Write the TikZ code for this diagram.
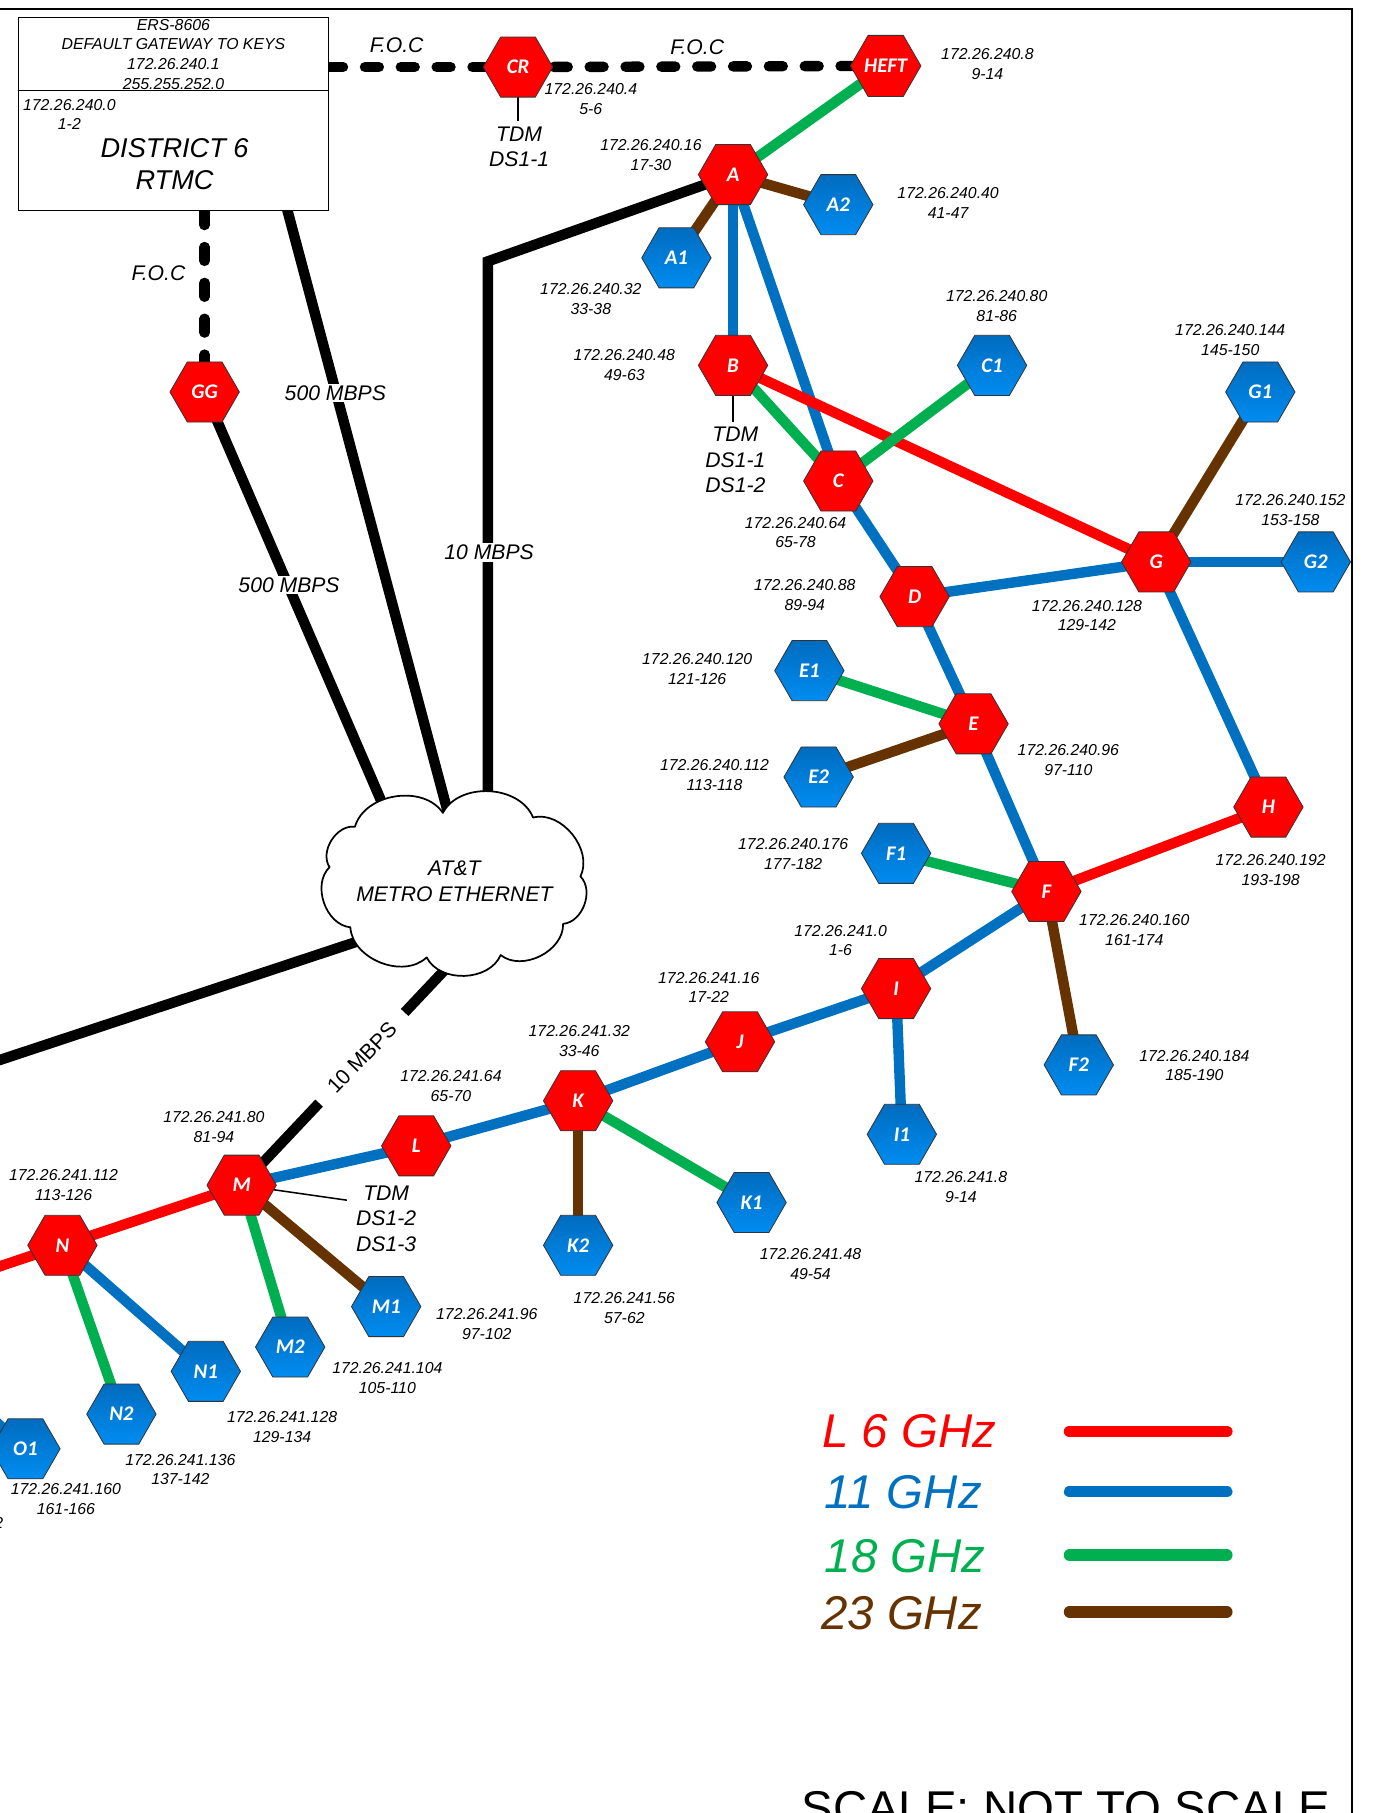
\documentclass[tikz,border=0pt]{standalone}
\usepackage{fontspec}
\setmainfont{Liberation Sans}
\newfontfamily\hexf{Carlito}
\usetikzlibrary{shapes.geometric,calc}
\pgfdeclarelayer{bg}
\pgfsetlayers{bg,main}
\definecolor{cR}{HTML}{FF0000}
\definecolor{cB}{HTML}{0070C0}
\definecolor{cG}{HTML}{00B050}
\definecolor{cN}{HTML}{663300}
\definecolor{hbT}{HTML}{006CBF}
\definecolor{hbB}{HTML}{008CF0}
\begin{document}
\begin{tikzpicture}[x=1pt,y=-1pt,
  hexbase/.style={regular polygon, regular polygon sides=6, minimum size=60pt, inner sep=0pt, draw=black!80, line width=0.7pt, text=white, font=\hexf\bfseries\itshape\fontsize{18}{18}\selectfont},
  hexr/.style={hexbase, fill=cR},
  hexb/.style={hexbase, top color=hbT, bottom color=hbB},
  ip/.style={align=center, inner sep=0pt, font=\itshape\fontsize{13.7}{17}\selectfont},
  big/.style={align=center, inner sep=0pt, font=\itshape\fontsize{18.3}{22}\selectfont},
  lk/.style={line width=9pt},
  l6/.style={lk, draw=cR}, l11/.style={lk, draw=cB}, l18/.style={lk, draw=cG}, l23/.style={lk, draw=cN},
  blk/.style={line width=9pt, draw=black},
  foc/.style={line width=9pt, draw=black, line cap=round, dash pattern=on 12pt off 19pt},
  thinln/.style={line width=1.3pt, draw=black},
  lbl/.style={big, fill=white, inner sep=1.5pt},
  leg/.style={anchor=base west, inner sep=0pt, font=\itshape\fontsize{41}{41}\selectfont},
  legln/.style={line width=10pt, line cap=round},
]
\useasboundingbox (0,0) rectangle (1187,1568);
% frame
\draw[line width=2pt] (0,8) -- (1169,8) -- (1169,1580);

% RTMC box
\node[draw, line width=1.3pt, minimum width=268pt, minimum height=167pt, inner sep=0pt, fill=white] (rtmc) at (150,98.5) {};
\draw[line width=1.3pt] ($(rtmc.north west)+(0,64)$) -- ($(rtmc.north east)+(0,64)$);
\node[ip] (hdr) at (150,47) {ERS-8606\\DEFAULT GATEWAY TO KEYS\\172.26.240.1\\255.255.252.0};
\node[ip] (i0) at (60,99) {172.26.240.0\\1-2};
\node[align=center, inner sep=0pt, font=\itshape\fontsize{23.5}{27}\selectfont] (dist) at (151,142) {DISTRICT 6\\RTMC};

% cloud
\draw[fill=white, line width=1.5pt, line join=round] (383,703) to[bend left=65] (461,707) to[bend left=65] (502,758) to[bend left=65] (487,799) to[bend left=65] (433,826) to[bend left=65] (369,828) to[bend left=65] (303,802) to[bend left=65] (285,750) to[bend left=65] (307,715) to[bend left=65] (383,703) -- cycle;
\node[big, font=\itshape\fontsize{18.3}{22}\selectfont] (cloudtxt) at (393,762) {AT\&T\\METRO ETHERNET};

% hexagons
\node[hexr] (CR) at (448,58) {CR};
\node[hexr] (HEFT) at (766,57) {HEFT};
\node[hexr] (A) at (634,151) {A};
\node[hexb] (A1) at (585,223) {A1};
\node[hexb] (A2) at (725,177) {A2};
\node[hexr] (B) at (634,316) {B};
\node[hexr] (C) at (725,416) {C};
\node[hexb] (C1) at (858,316) {C1};
\node[hexb] (G1) at (1090,339) {G1};
\node[hexr] (G) at (1000,486) {G};
\node[hexb] (G2) at (1138,486) {G2};
\node[hexr] (D) at (791,516) {D};
\node[hexb] (E1) at (700,580) {E1};
\node[hexr] (E) at (842,626) {E};
\node[hexb] (E2) at (708,672) {E2};
\node[hexr] (H) at (1097,698) {H};
\node[hexb] (F1) at (775,738) {F1};
\node[hexr] (F) at (905,771) {F};
\node[hexr] (I) at (775,855) {I};
\node[hexb] (F2) at (933,921) {F2};
\node[hexb] (I1) at (780,981) {I1};
\node[hexr] (J) at (640,901) {J};
\node[hexr] (K) at (500,952) {K};
\node[hexb] (K1) at (650,1040) {K1};
\node[hexb] (K2) at (500,1077) {K2};
\node[hexr] (L) at (360,991) {L};
\node[hexr] (M) at (209,1025) {M};
\node[hexb] (M1) at (334,1130) {M1};
\node[hexb] (M2) at (251,1165) {M2};
\node[hexr] (N) at (54,1077) {N};
\node[hexb] (N1) at (178,1186) {N1};
\node[hexb] (N2) at (105,1223) {N2};
\node[hexb] (O1) at (22,1253) {O1};
\node[hexr] (GG) at (177,339) {GG};

% coordinates
\coordinate (rb1) at (247,176);
\coordinate (c1) at (388,705);
\coordinate (c2) at (335,705);
\coordinate (k1) at (422,226);
\coordinate (c3) at (422,705);
\coordinate (c4) at (310,814);
\coordinate (lft) at (-10,920);
\coordinate (c5) at (393,830);
\coordinate (m1) at ($(c5)!0.234!(M.center)$);
\coordinate (m2) at ($(c5)!0.636!(M.center)$);
\coordinate (mlab) at ($(c5)!0.435!(M.center)$);
\coordinate (tdm1) at (448,105);
\coordinate (tdm2) at (634,365);
\coordinate (tdm3) at (300,1038);
\coordinate (nL) at (-10,1098.5);
\coordinate (oL) at (-25,1210);

\begin{pgfonlayer}{bg}
% black trunks
\draw[blk] (rb1) -- (c1);
\draw[blk] (GG.center) -- (c2);
\draw[blk, line join=miter] (A.center) -- (k1) -- (c3);
\draw[blk] (c4) -- (lft);
\draw[blk] (c5) -- (m1);
\draw[blk] (m2) -- (M.center);
% fiber
\draw[foc] (rtmc.east |- CR.center) -- (CR.center);
\draw[foc] (CR.center) -- (HEFT.center);
\draw[foc] (rtmc.south -| GG.center) -- (GG.center);
% TDM ticks
\draw[thinln] (CR.center) -- (tdm1);
\draw[thinln] (B.center) -- (tdm2);
\draw[thinln] (M.center) -- (tdm3);
% radio links
\draw[l18] (HEFT.center) -- (A.center);
\draw[l23] (A.center) -- (A1.center);
\draw[l23] (A.center) -- (A2.center);
\draw[l11] (A.center) -- (B.center);
\draw[l11] (A.center) -- (C.center);
\draw[l18] (B.center) -- (C.center);
\draw[l6] (B.center) -- (G.center);
\draw[l18] (C.center) -- (C1.center);
\draw[l11] (C.center) -- (D.center);
\draw[l11] (D.center) -- (G.center);
\draw[l23] (G.center) -- (G1.center);
\draw[l11] (G.center) -- (G2.center);
\draw[l11] (G.center) -- (H.center);
\draw[l11] (D.center) -- (E.center);
\draw[l18] (E.center) -- (E1.center);
\draw[l23] (E.center) -- (E2.center);
\draw[l11] (E.center) -- (F.center);
\draw[l6] (F.center) -- (H.center);
\draw[l18] (F.center) -- (F1.center);
\draw[l11] (F.center) -- (I.center);
\draw[l23] (F.center) -- (F2.center);
\draw[l11] (I.center) -- (I1.center);
\draw[l11] (I.center) -- (J.center);
\draw[l11] (J.center) -- (K.center);
\draw[l18] (K.center) -- (K1.center);
\draw[l23] (K.center) -- (K2.center);
\draw[l11] (K.center) -- (L.center);
\draw[l11] (L.center) -- (M.center);
\draw[l23] (M.center) -- (M1.center);
\draw[l18] (M.center) -- (M2.center);
\draw[l6] (M.center) -- (N.center);
\draw[l6] (N.center) -- (nL);
\draw[l11] (N.center) -- (N1.center);
\draw[l18] (N.center) -- (N2.center);
\draw[l11] (oL) -- (O1.center);
\end{pgfonlayer}

% link labels
\node[big] (foc1) at (343,39) {F.O.C};
\node[big] (foc2) at (603,41) {F.O.C};
\node[big] (foc3) at (137,236) {F.O.C};
\node[lbl] (mb1) at (290,340) {500 MBPS};
\node[lbl] (mb2) at (250,506) {500 MBPS};
\node[lbl] (mb3) at (423,478) {10 MBPS};
\node[align=center, inner sep=0pt, font=\fontsize{18.3}{22}\selectfont, rotate=46] (mb4) at (mlab) {10 MBPS};
\node[big] (tdmA) at (449,127) {TDM\\DS1-1};
\node[big] (tdmB) at (636,398) {TDM\\DS1-1\\DS1-2};
\node[big] (tdmC) at (334,1054) {TDM\\DS1-2\\DS1-3};

% address labels
\node[ip] (iCR) at (511,85.5) {172.26.240.4\\5-6};
\node[ip] (iHEFT) at (854,55.5) {172.26.240.8\\9-14};
\node[ip] (iA) at (563,134) {172.26.240.16\\17-30};
\node[ip] (iA2) at (820,175.5) {172.26.240.40\\41-47};
\node[ip] (iA1) at (511,258.5) {172.26.240.32\\33-38};
\node[ip] (iC1) at (862,264.5) {172.26.240.80\\81-86};
\node[ip] (iG1) at (1064,294) {172.26.240.144\\145-150};
\node[ip] (iB) at (540,315.5) {172.26.240.48\\49-63};
\node[ip] (iG2) at (1116,441) {172.26.240.152\\153-158};
\node[ip] (iC) at (688,460.5) {172.26.240.64\\65-78};
\node[ip] (iD) at (696,514.5) {172.26.240.88\\89-94};
\node[ip] (iG) at (940,532.5) {172.26.240.128\\129-142};
\node[ip] (iE1) at (603,578.5) {172.26.240.120\\121-126};
\node[ip] (iE) at (924,657.5) {172.26.240.96\\97-110};
\node[ip] (iE2) at (618,670.5) {172.26.240.112\\113-118};
\node[ip] (iF1) at (686,738.5) {172.26.240.176\\177-182};
\node[ip] (iH) at (1099,752.5) {172.26.240.192\\193-198};
\node[ip] (iF) at (981,804.5) {172.26.240.160\\161-174};
\node[ip] (iI) at (727,813.5) {172.26.241.0\\1-6};
\node[ip] (iJ) at (613,854) {172.26.241.16\\17-22};
\node[ip] (iK) at (501,900.5) {172.26.241.32\\33-46};
\node[ip] (iF2) at (1033,921.5) {172.26.240.184\\185-190};
\node[ip] (iL) at (390,939) {172.26.241.64\\65-70};
\node[ip] (iM) at (185,975) {172.26.241.80\\81-94};
\node[ip] (iI1) at (831,1026.5) {172.26.241.8\\9-14};
\node[ip] (iN) at (55,1025) {172.26.241.112\\113-126};
\node[ip] (iK1) at (701,1093) {172.26.241.48\\49-54};
\node[ip] (iK2) at (540,1131.5) {172.26.241.56\\57-62};
\node[ip] (iM1) at (421,1145) {172.26.241.96\\97-102};
\node[ip] (iM2) at (335,1192) {172.26.241.104\\105-110};
\node[ip] (iN1) at (244,1234) {172.26.241.128\\129-134};
\node[ip] (iN2) at (156,1271) {172.26.241.136\\137-142};
\node[ip] (iO1) at (57,1296.5) {172.26.241.160\\161-166};
\node[ip, anchor=east] (frag) at (3,1317) {2};

% legend
\node[leg, text=cR] (lg1) at (711,1252) {L 6 GHz};
\node[leg, text=cB] (lg2) at (713,1305) {11 GHz};
\node[leg, text=cG] (lg3) at (713,1360) {18 GHz};
\node[leg, text=cN] (lg4) at (710,1409) {23 GHz};
\coordinate (la1) at (925,1238); \coordinate (lb1) at (1061,1238);
\coordinate (la2) at (925,1290); \coordinate (lb2) at (1061,1290);
\coordinate (la3) at (925,1345); \coordinate (lb3) at (1061,1345);
\coordinate (la4) at (925,1394); \coordinate (lb4) at (1061,1394);
\draw[legln, draw=cR] (la1) -- (lb1);
\draw[legln, draw=cB] (la2) -- (lb2);
\draw[legln, draw=cG] (la3) -- (lb3);
\draw[legln, draw=cN] (la4) -- (lb4);

\node[anchor=base west, inner sep=0pt, font=\fontsize{41}{41}\selectfont] (scale) at (693,1578) {SCALE: NOT TO SCALE};
\end{tikzpicture}
\end{document}
